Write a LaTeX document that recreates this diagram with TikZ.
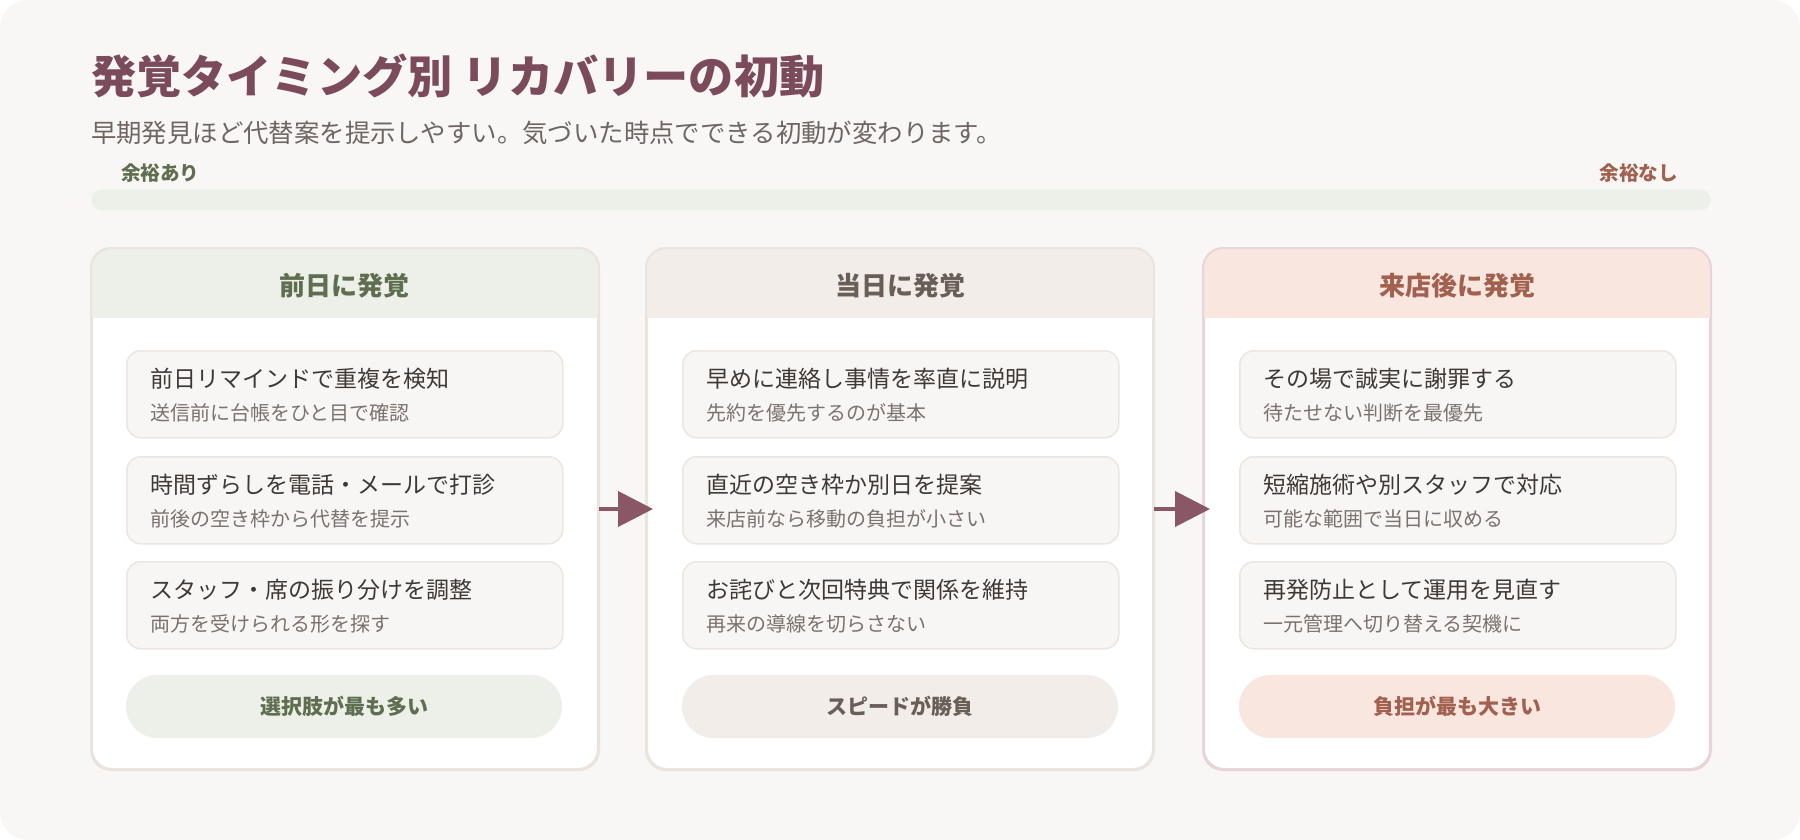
\documentclass[tikz,border=0pt]{standalone}
\usepackage{fontspec}
\setmainfont{Noto Sans CJK JP}
\usetikzlibrary{arrows.meta}
\definecolor{bg}{HTML}{F8F7F5}
\definecolor{ttl}{HTML}{7B4B5B}
\definecolor{subt}{HTML}{6E6663}
\definecolor{gtxt}{HTML}{5F6E4F}
\definecolor{gfill}{HTML}{EDF0E9}
\definecolor{btxt}{HTML}{6A5F58}
\definecolor{bfill}{HTML}{F2EDE9}
\definecolor{rtxt}{HTML}{A2604F}
\definecolor{rfill}{HTML}{F8E6DF}
\definecolor{cbord}{HTML}{EBE3DD}
\definecolor{rbord}{HTML}{E9D5D9}
\definecolor{itfill}{HTML}{F8F6F4}
\definecolor{itbord}{HTML}{ECE5E0}
\definecolor{ittl}{HTML}{3F3936}
\definecolor{isub}{HTML}{7A726E}
\definecolor{arr}{HTML}{8A5767}
\definecolor{barc}{HTML}{EDF0E9}
\newcommand\myfs[1]{\fontsize{#1pt}{#1pt}\selectfont}
\tikzset{
  x=0.5pt, y=-0.5pt,
  txt/.style={inner sep=0pt, outer sep=0pt},
  cardbox/.style={draw=cbord, fill=white, line width=1pt, rounded corners=10pt,
    minimum width=253pt, minimum height=260pt, inner sep=0pt, anchor=north west},
  itembox/.style={draw=itbord, fill=itfill, line width=0.75pt, rounded corners=7pt,
    minimum width=218pt, minimum height=43.5pt, inner sep=0pt, anchor=north west},
  ititle/.style={txt, anchor=west, text=ittl, font=\myfs{11.5}},
  isubt/.style={txt, anchor=west, text=isub, font=\myfs{10}},
  hdtext/.style={txt, font=\myfs{13}\bfseries},
  pill/.style={rounded corners=15.75pt, minimum width=218pt, minimum height=31.5pt,
    inner sep=0pt, font=\myfs{10.5}\bfseries},
  flow/.style={draw=arr, line width=2pt, -{Triangle[length=17.5pt,width=17.5pt]}},
}
\newcommand\mkitem[5]{%
  \node[itembox] (#1) at (#2,#3) {};
  \node[ititle] (#1t) at ({#2+24},{#3+29}) {#4};
  \node[isubt] (#1s) at ({#2+24},{#3+63}) {#5};
}
\newcommand\mkheader[3]{%
  \begin{scope}
    \clip[rounded corners=10pt] (#1.north west) rectangle (#1.south east);
    \fill[#2] (#1.north west) rectangle ([yshift=-35pt]#1.north east);
  \end{scope}
  \draw[#3, line width=1pt, rounded corners=10pt] (#1.north west) rectangle (#1.south east);
}
\begin{document}
\begin{tikzpicture}
\useasboundingbox (0,0) rectangle (1800,840);
\fill[bg, rounded corners=14pt] (0,0) rectangle (1800,840);

\node[txt, anchor=west, text=ttl, font=\myfs{22.6}\bfseries] (title) at (91,76) {発覚タイミング別 リカバリーの初動};
\node[txt, anchor=west, text=subt, font=\myfs{12.7}] (subtitle) at (91,133) {早期発見ほど代替案を提示しやすい。気づいた時点でできる初動が変わります。};
\node[txt, anchor=west, text=gtxt, font=\myfs{9.8}\bfseries] (lmore) at (121,173) {余裕あり};
\node[txt, anchor=east, text=rtxt, font=\myfs{9.8}\bfseries] (lless) at (1678,173) {余裕なし};
\node[fill=barc, rounded corners=5.25pt, minimum width=809.5pt, minimum height=10.5pt, inner sep=0pt, anchor=north west] (bar) at (91,189) {};

% card 1
\node[cardbox] (card1) at (91,248) {};
\mkheader{card1}{gfill}{cbord}
\node[hdtext, text=gtxt] (h1) at (344,286) {前日に発覚};
\mkitem{a1}{126}{350}{前日リマインドで重複を検知}{送信前に台帳をひと目で確認}
\mkitem{a2}{126}{456}{時間ずらしを電話・メールで打診}{前後の空き枠から代替を提示}
\mkitem{a3}{126}{561}{スタッフ・席の振り分けを調整}{両方を受けられる形を探す}
\node[pill, fill=gfill, text=gtxt] (p1) at (344,706.5) {選択肢が最も多い};

% card 2
\node[cardbox] (card2) at (646,248) {};
\mkheader{card2}{bfill}{cbord}
\node[hdtext, text=btxt] (h2) at (900,286) {当日に発覚};
\mkitem{b1}{682}{350}{早めに連絡し事情を率直に説明}{先約を優先するのが基本}
\mkitem{b2}{682}{456}{直近の空き枠か別日を提案}{来店前なら移動の負担が小さい}
\mkitem{b3}{682}{561}{お詫びと次回特典で関係を維持}{再来の導線を切らさない}
\node[pill, fill=bfill, text=btxt] (p2) at (900,706.5) {スピードが勝負};

% card 3
\node[cardbox, draw=rbord] (card3) at (1203,248) {};
\mkheader{card3}{rfill}{rbord}
\node[hdtext, text=rtxt] (h3) at (1457,286) {来店後に発覚};
\mkitem{c1}{1239}{350}{その場で誠実に謝罪する}{待たせない判断を最優先}
\mkitem{c2}{1239}{456}{短縮施術や別スタッフで対応}{可能な範囲で当日に収める}
\mkitem{c3}{1239}{561}{再発防止として運用を見直す}{一元管理へ切り替える契機に}
\node[pill, fill=rfill, text=rtxt] (p3) at (1457,706.5) {負担が最も大きい};

% arrows
\draw[flow] (card1.east) -- ([xshift=3.5pt]card2.west);
\draw[flow] (card2.east) -- ([xshift=3.5pt]card3.west);
\end{tikzpicture}
\end{document}
